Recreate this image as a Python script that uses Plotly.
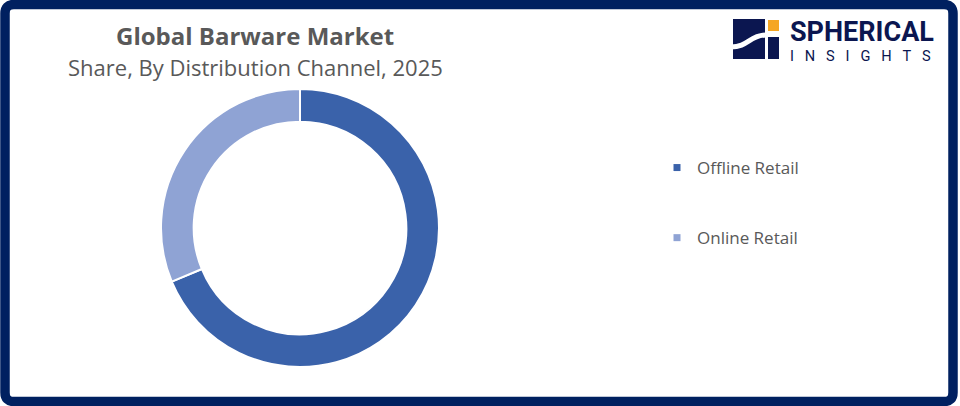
import plotly.graph_objects as go

# ---- data ----
channels = ["Offline Retail", "Online Retail"]
shares = [68.7, 31.3]
colors = ["#3A62AA", "#8FA3D4"]

title_text = "Global Barware Market"
subtitle_text = "Share, By Distribution Channel, 2025"
logo_main = "SPHERICAL"
logo_sub = "INSIGHTS"

W, H = 960, 406
def X(px):
    return px / W
def Y(py):
    return 1 - py / H

fig = go.Figure()

# donut
cx, cy, R = 300, 228, 139
fig.add_trace(go.Pie(
    labels=channels, values=shares,
    marker=dict(colors=colors, line=dict(color="white", width=2)),
    hole=0.765, sort=False, direction="clockwise", rotation=0,
    textinfo="none", hoverinfo="label+percent", showlegend=False,
    domain=dict(x=[X(cx - R), X(cx + R)], y=[Y(cy + R), Y(cy - R)]),
))

# legend entries (same labels / colours as the donut)
for i, (lab, col) in enumerate(zip(channels, colors)):
    fig.add_trace(go.Scatter(
        x=[None], y=[None], mode="markers", name=lab,
        marker=dict(symbol="square", size=7, color=col),
        legendgroup=f"g{i}", showlegend=True, hoverinfo="skip",
    ))

shapes = []
# outer frame with rounded corners
x0, y0, x1, y1, r = 5, 4.5, 953, 401.5, 9
path = (f"M {X(x0 + r)},{Y(y0)} L {X(x1 - r)},{Y(y0)} "
        f"Q {X(x1)},{Y(y0)} {X(x1)},{Y(y0 + r)} L {X(x1)},{Y(y1 - r)} "
        f"Q {X(x1)},{Y(y1)} {X(x1 - r)},{Y(y1)} L {X(x0 + r)},{Y(y1)} "
        f"Q {X(x0)},{Y(y1)} {X(x0)},{Y(y1 - r)} L {X(x0)},{Y(y0 + r)} "
        f"Q {X(x0)},{Y(y0)} {X(x0 + r)},{Y(y0)} Z")
shapes.append(dict(type="path", xref="paper", yref="paper", path=path,
                   line=dict(color="#002060", width=9.5), fillcolor="rgba(0,0,0,0)"))

# logo icon
navy = "#0B1650"
shapes.append(dict(type="rect", xref="paper", yref="paper",
                   x0=X(733), x1=X(765), y0=Y(59), y1=Y(19),
                   fillcolor=navy, line=dict(width=0)))
shapes.append(dict(type="rect", xref="paper", yref="paper",
                   x0=X(768), x1=X(779), y0=Y(59), y1=Y(37),
                   fillcolor=navy, line=dict(width=0)))
shapes.append(dict(type="rect", xref="paper", yref="paper",
                   x0=X(768), x1=X(779), y0=Y(31), y1=Y(20),
                   fillcolor="#F5A623", line=dict(width=0)))
wave = (f"M {X(731)},{Y(47)} C {X(748)},{Y(47)} {X(750)},{Y(35)} {X(766)},{Y(35)}")
shapes.append(dict(type="path", xref="paper", yref="paper", path=wave,
                   line=dict(color="white", width=5)))

nb = "\u00a0" * 3
annotations = [
    dict(text=f"<b>{title_text}</b>", x=X(255), y=Y(35), xref="paper", yref="paper",
         showarrow=False, xanchor="center", yanchor="middle",
         font=dict(family="Open Sans", size=24, color="#595959")),
    dict(text=subtitle_text, x=X(255), y=Y(67), xref="paper", yref="paper",
         showarrow=False, xanchor="center", yanchor="middle",
         font=dict(family="Open Sans", size=22, color="#595959")),
    dict(text=f"<b>{logo_main}</b>", x=X(788), y=Y(32), xref="paper", yref="paper",
         showarrow=False, xanchor="left", yanchor="middle",
         font=dict(family="Roboto", size=27, color=navy)),
    dict(text=nb.join(logo_sub), x=X(788), y=Y(56), xref="paper", yref="paper",
         showarrow=False, xanchor="left", yanchor="middle",
         font=dict(family="Roboto", size=14.6, color=navy)),
]

fig.update_layout(
    width=W, height=H, margin=dict(l=0, r=0, t=0, b=0),
    paper_bgcolor="white", plot_bgcolor="white",
    xaxis=dict(visible=False), yaxis=dict(visible=False),
    legend=dict(x=X(657), y=Y(150), xanchor="left", yanchor="top",
                font=dict(family="Open Sans", size=17, color="#595959"),
                tracegroupgap=45, bgcolor="rgba(0,0,0,0)"),
    shapes=shapes, annotations=annotations,
)

fig.write_html("out.html", config={"displayModeBar": False},
               post_script="document.body.style.margin='0';")
